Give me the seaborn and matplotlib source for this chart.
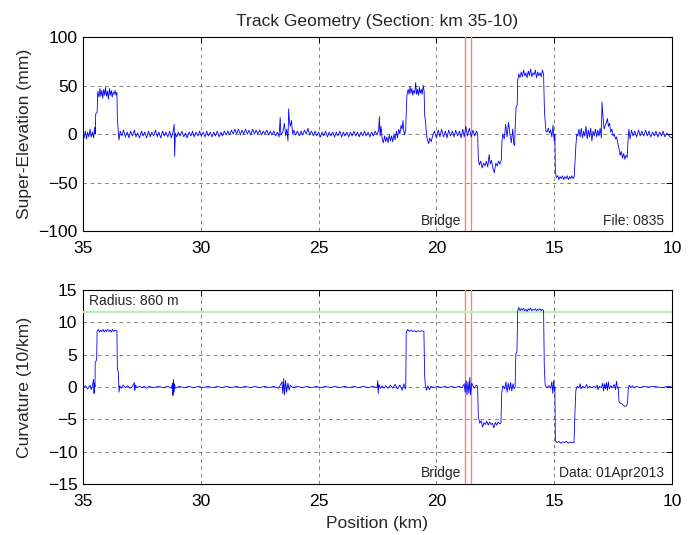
import matplotlib
matplotlib.use("Agg")
import matplotlib.pyplot as plt
import seaborn as sns
import pandas as pd

# ---------------- data ----------------
super_elev = [
    (35.00, 1), (34.95, -4), (34.90, 3), (34.85, -5), (34.80, 2), (34.75, -3), (34.70, 5), (34.65, -3),
    (34.60, 2), (34.55, -4), (34.50, 7), (34.48, 0),
    (34.46, 21), (34.40, 22), (34.37, 44), (34.32, 38), (34.28, 47), (34.24, 39), (34.20, 45), (34.16, 37),
    (34.12, 46), (34.08, 40), (34.04, 48), (34.00, 39), (33.96, 44), (33.92, 36), (33.88, 47), (33.84, 40),
    (33.80, 45), (33.76, 38), (33.72, 43), (33.68, 41), (33.64, 45), (33.60, 40), (33.56, 43),
    (33.54, 16), (33.50, 2), (33.47, -6), (33.42, 3), (33.35, -2), (33.28, 4), (33.20, -3), (33.12, 2),
    (33.05, -4), (32.98, 3), (32.90, -2), (32.82, 4), (32.75, -3), (32.68, 1), (32.60, -4), (32.52, 3),
    (32.45, -2), (32.38, 2), (32.30, -4), (32.22, 3), (32.15, -3), (32.08, 2), (32.00, -2), (31.92, 4),
    (31.85, -3), (31.78, 2), (31.70, -4), (31.62, 3), (31.55, -2), (31.48, 2), (31.40, -3), (31.32, 3),
    (31.25, -4), (31.18, 2), (31.13, 10), (31.11, -23), (31.08, 1), (31.02, -3), (30.95, 2), (30.88, -2),
    (30.80, 3), (30.72, -3), (30.65, 1), (30.58, -4), (30.50, 2), (30.42, -2), (30.35, 3), (30.28, -3),
    (30.20, 2), (30.12, -2), (30.05, 3), (29.98, -2), (29.90, 2), (29.82, -3), (29.75, 3), (29.68, -2),
    (29.60, 2), (29.52, -3), (29.45, 2), (29.38, -2), (29.30, 3), (29.22, -3), (29.15, 2), (29.08, -2),
    (29.00, 3), (28.92, -1), (28.85, 3), (28.78, -1), (28.70, 4), (28.62, 0), (28.55, 5), (28.48, 0),
    (28.40, 5), (28.32, -1), (28.25, 4), (28.18, 0), (28.10, 5), (28.02, 0), (27.95, 4), (27.88, -1),
    (27.80, 5), (27.72, 0), (27.65, 4), (27.58, 0), (27.50, 4), (27.42, -1), (27.35, 3), (27.28, 0),
    (27.20, 4), (27.12, -1), (27.05, 3), (26.98, -1), (26.90, 3), (26.82, -2), (26.75, 2), (26.68, -3),
    (26.63, 17), (26.60, -1), (26.52, 2), (26.45, 11), (26.40, -2), (26.35, 5), (26.30, -7), (26.27, 26),
    (26.24, 13), (26.20, 8), (26.15, 14), (26.10, 0), (26.05, 4), (25.98, -1), (25.90, 3), (25.82, -2),
    (25.75, 3), (25.68, -1), (25.60, 4), (25.52, 0), (25.45, 6), (25.38, -1), (25.30, 3), (25.22, -2),
    (25.15, 3), (25.08, -2), (25.00, 2), (24.92, -3), (24.85, 2), (24.78, -2), (24.70, 3), (24.62, -3),
    (24.55, 2), (24.48, -2), (24.40, 2), (24.32, -3), (24.25, 2), (24.18, -2), (24.10, 3), (24.02, -3),
    (23.95, 2), (23.88, -2), (23.80, 2), (23.72, -3), (23.65, 2), (23.58, -2), (23.50, 3), (23.42, -2),
    (23.35, 2), (23.28, -3), (23.20, 2), (23.12, -2), (23.05, 3), (22.98, -2), (22.90, 2), (22.82, -3),
    (22.75, 2), (22.68, -2), (22.60, 3), (22.52, -1), (22.45, 4), (22.42, 18), (22.39, -2), (22.35, 8),
    (22.30, -5), (22.25, -9), (22.20, -2), (22.15, -8), (22.10, -3), (22.05, -9), (22.00, -1), (21.95, -7),
    (21.90, -2), (21.85, -8), (21.80, 0), (21.75, -6), (21.70, 3), (21.65, -4), (21.60, 5), (21.55, 0),
    (21.50, 9), (21.45, 5), (21.42, 14), (21.38, 3), (21.35, -1), (21.30, 5),
    (21.28, 22), (21.25, 40), (21.20, 46), (21.16, 41), (21.12, 49), (21.08, 42), (21.04, 47), (21.00, 40),
    (20.96, 45), (20.92, 42), (20.88, 53), (20.84, 41), (20.80, 46), (20.76, 40), (20.72, 48), (20.68, 42),
    (20.64, 46), (20.60, 41), (20.56, 50), (20.52, 44),
    (20.50, 20), (20.46, 12), (20.42, 0), (20.38, -6), (20.33, -10), (20.28, -4), (20.22, -8), (20.15, -1),
    (20.08, 3), (20.00, -4), (19.92, 4), (19.85, -3), (19.78, 5), (19.70, -3), (19.62, 3), (19.55, -4),
    (19.48, 4), (19.40, -2), (19.32, 3), (19.25, -3), (19.18, 4), (19.10, -2), (19.02, 3), (18.95, -4),
    (18.88, 5), (18.82, -3), (18.75, 8), (18.68, -2), (18.60, 6), (18.52, -3), (18.45, 4), (18.38, -2),
    (18.30, 3), (18.25, 0),
    (18.22, -25), (18.18, -32), (18.12, -28), (18.06, -35), (18.00, -30), (17.94, -33), (17.88, -28),
    (17.82, -34), (17.76, -21), (17.72, -31), (17.66, -27), (17.60, -35), (17.54, -40), (17.48, -30),
    (17.42, -33), (17.36, -28), (17.30, -31), (17.24, -26),
    (17.22, -8), (17.18, 0), (17.12, -5), (17.06, 10), (17.00, -3), (16.94, 12), (16.88, 0), (16.82, -9),
    (16.76, 5), (16.72, -10), (16.68, -12), (16.66, 5), (16.62, 27), (16.57, 30),
    (16.55, 55), (16.50, 62), (16.45, 58), (16.40, 64), (16.35, 59), (16.30, 66), (16.25, 60), (16.20, 63),
    (16.15, 58), (16.10, 65), (16.05, 60), (16.00, 67), (15.95, 59), (15.90, 63), (15.85, 61), (15.80, 66),
    (15.75, 58), (15.70, 64), (15.65, 60), (15.60, 63), (15.55, 59), (15.50, 66), (15.45, 61),
    (15.42, 30), (15.40, 18), (15.35, 3), (15.30, 2), (15.25, 6), (15.20, 1), (15.15, 4), (15.10, -3),
    (15.05, 9), (15.00, -7), (14.97, 0),
    (14.95, -40), (14.90, -45), (14.85, -43), (14.80, -47), (14.75, -44), (14.70, -46), (14.65, -43),
    (14.60, -47), (14.55, -44), (14.50, -46), (14.45, -43), (14.40, -47), (14.35, -44), (14.30, -46),
    (14.25, -43), (14.20, -46), (14.15, -44),
    (14.12, -30), (14.08, -12), (14.04, 0), (14.00, -2), (13.95, 5), (13.90, -3), (13.85, 6), (13.80, -4),
    (13.75, 3), (13.70, -2), (13.65, 8), (13.60, -5), (13.55, 4), (13.50, -3), (13.45, 6), (13.40, -7),
    (13.35, 3), (13.30, -2), (13.25, 5), (13.20, -3), (13.15, 4), (13.10, -2), (13.05, 6), (13.00, -4),
    (12.97, 33), (12.93, 18), (12.88, 5), (12.82, 10), (12.78, 12), (12.74, 16), (12.70, 8), (12.65, 11),
    (12.60, 2), (12.55, 5), (12.50, -2), (12.45, 0), (12.40, -5), (12.35, -3), (12.30, -10), (12.25, -15),
    (12.20, -22), (12.15, -18), (12.10, -25), (12.05, -20), (12.00, -26), (11.95, -22), (11.90, -24),
    (11.87, -8), (11.83, 5), (11.78, -5), (11.72, 4), (11.65, -2), (11.58, 3), (11.50, -3), (11.42, 4),
    (11.35, -2), (11.28, 3), (11.20, -2), (11.12, 4), (11.05, -2), (10.98, 3), (10.90, -3), (10.82, 2),
    (10.75, -2), (10.68, 3), (10.60, -3), (10.52, 2), (10.45, -2), (10.38, 3), (10.30, -3), (10.22, 1),
    (10.15, -1), (10.08, -3), (10.00, -4),
]

curvature = [
    (35.00, 0.0), (34.90, 0.2), (34.80, -0.3), (34.70, 0.3), (34.65, -0.4), (34.60, 0.2), (34.55, 1.2),
    (34.53, -1.0), (34.51, 0.6), (34.49, 0.0),
    (34.48, 3.8), (34.42, 4.2), (34.40, 8.6), (34.35, 8.9), (34.30, 8.5), (34.25, 8.8), (34.20, 8.6),
    (34.15, 8.9), (34.10, 8.5), (34.05, 8.8), (34.00, 8.6), (33.95, 8.9), (33.90, 8.6), (33.85, 8.8),
    (33.80, 8.5), (33.75, 8.9), (33.70, 8.6), (33.65, 8.8), (33.60, 8.7), (33.56, 8.7),
    (33.54, 2.6), (33.50, 2.4), (33.47, -0.8), (33.44, 0.2), (33.38, -0.2), (33.30, 0.3), (33.20, -0.1),
    (33.10, 0.2), (33.00, -0.2), (32.90, 0.1), (32.82, 0.7), (32.80, -0.5), (32.78, 0.3), (32.70, -0.1),
    (32.60, 0.1), (32.50, -0.1), (32.40, 0.1), (32.30, -0.2), (32.20, 0.1), (32.00, -0.1), (31.80, 0.1),
    (31.60, -0.1), (31.40, 0.1), (31.25, -0.2), (31.20, 0.6), (31.18, -1.3), (31.16, 1.2), (31.14, -0.8),
    (31.12, 0.5), (31.08, -0.2), (30.90, 0.1), (30.70, -0.1), (30.50, 0.1), (30.30, -0.1), (30.10, 0.1),
    (29.90, -0.1), (29.70, 0.1), (29.50, -0.1), (29.30, 0.1), (29.10, -0.1), (28.90, 0.1), (28.70, -0.1),
    (28.50, 0.1), (28.30, -0.1), (28.10, 0.1), (27.90, -0.1), (27.70, 0.1), (27.50, -0.1), (27.30, 0.1),
    (27.10, -0.1), (26.90, 0.1), (26.70, -0.2), (26.55, 0.8), (26.52, -1.0), (26.48, 1.3), (26.45, -1.2),
    (26.40, 1.0), (26.36, -0.8), (26.30, 0.6), (26.25, -0.5), (26.20, 0.3), (26.10, -0.1), (25.90, 0.1),
    (25.70, -0.1), (25.50, 0.1), (25.30, -0.1), (25.10, 0.1), (24.90, -0.1), (24.70, 0.1), (24.50, -0.1),
    (24.30, 0.1), (24.10, -0.1), (23.90, 0.1), (23.70, -0.1), (23.50, 0.1), (23.30, -0.1), (23.10, 0.1),
    (22.90, -0.1), (22.70, 0.1), (22.52, -0.1), (22.49, 1.0), (22.47, -1.0), (22.44, 0.4), (22.38, -0.2),
    (22.30, 0.2), (22.22, -0.2), (22.15, 0.2), (22.05, -0.2), (21.95, 0.3), (21.85, -0.2), (21.75, 0.4),
    (21.65, -0.3), (21.55, 0.3), (21.45, -0.5), (21.38, 0.5), (21.32, -0.3), (21.30, 0.0),
    (21.28, 8.4), (21.22, 8.9), (21.15, 8.6), (21.08, 8.8), (21.00, 8.6), (20.92, 8.7), (20.85, 8.5),
    (20.78, 8.7), (20.70, 8.6), (20.62, 8.7), (20.53, 8.6),
    (20.50, 2.0), (20.47, 0.2), (20.42, -0.5), (20.36, 0.2), (20.30, -0.4), (20.22, 0.1), (20.10, -0.1),
    (19.95, 0.1), (19.80, -0.1), (19.65, 0.1), (19.50, -0.1), (19.35, 0.1), (19.20, -0.1), (19.05, 0.1),
    (18.90, -0.1), (18.82, 0.5), (18.78, -0.8), (18.74, 1.0), (18.70, -1.2), (18.66, 0.8), (18.62, -1.0),
    (18.58, 1.5), (18.55, -1.2), (18.50, 0.6), (18.40, -0.2), (18.30, 0.3), (18.25, 0.0),
    (18.22, -4.6), (18.16, -5.6), (18.10, -5.2), (18.04, -6.2), (17.98, -5.5), (17.92, -5.8), (17.86, -5.3),
    (17.80, -5.9), (17.74, -5.4), (17.68, -5.8), (17.62, -5.6), (17.56, -6.3), (17.50, -5.5), (17.44, -5.9),
    (17.38, -5.4), (17.32, -5.7), (17.26, -5.6),
    (17.23, -1.0), (17.18, 0.2), (17.10, -0.3), (17.05, 0.8), (17.00, -0.8), (16.95, 0.6), (16.90, -0.5),
    (16.85, 0.7), (16.80, -0.6), (16.75, 0.5), (16.70, -0.3), (16.66, 0.0),
    (16.63, 5.0), (16.58, 5.5), (16.55, 11.8), (16.50, 12.3), (16.45, 11.8), (16.40, 12.1), (16.35, 11.9),
    (16.30, 12.2), (16.25, 11.8), (16.20, 12.0), (16.15, 11.7), (16.10, 12.1), (16.05, 11.9), (16.00, 12.2),
    (15.95, 11.8), (15.90, 12.0), (15.85, 11.9), (15.80, 12.1), (15.75, 11.8), (15.70, 12.0), (15.65, 11.9),
    (15.60, 12.1), (15.55, 11.8), (15.50, 12.0), (15.45, 11.8),
    (15.42, 3.0), (15.38, 0.2), (15.30, -0.1), (15.22, 0.2), (15.15, -0.2), (15.10, 0.8), (15.06, -1.0),
    (15.02, 1.0), (14.99, -0.6), (14.97, 0.0),
    (14.95, -8.3), (14.88, -8.6), (14.80, -8.4), (14.72, -8.7), (14.64, -8.5), (14.56, -8.6), (14.48, -8.4),
    (14.40, -8.7), (14.32, -8.5), (14.24, -8.6), (14.16, -8.6),
    (14.12, -4.0), (14.08, -0.5), (14.02, 0.1), (13.95, -0.1), (13.90, 0.5), (13.86, -0.3), (13.80, 0.1),
    (13.70, -0.1), (13.62, 0.4), (13.58, -0.2), (13.50, 0.1), (13.40, -0.1), (13.32, 0.1), (13.25, -0.1),
    (13.18, 0.3), (13.14, -0.4), (13.08, 0.1), (13.00, -0.1), (12.94, 0.6), (12.91, -0.6), (12.86, 0.5),
    (12.82, -0.3), (12.78, 0.7), (12.74, -0.5), (12.70, 0.8), (12.66, -0.3), (12.60, 0.2), (12.52, -0.1),
    (12.45, 0.4), (12.40, -0.4), (12.35, 0.9), (12.32, -0.2), (12.28, 0.0),
    (12.25, -2.2), (12.20, -2.5), (12.12, -2.6), (12.05, -2.9), (11.98, -3.0), (11.92, -2.8), (11.89, -2.5),
    (11.86, -0.5), (11.82, 0.3), (11.75, -0.1), (11.68, 0.2), (11.60, -0.1), (11.50, 0.1), (11.35, -0.1),
    (11.20, 0.1), (11.00, 0.0), (10.80, 0.1), (10.60, 0.0), (10.40, -0.1), (10.20, 0.1), (10.00, 0.0),
]

bridge_km = [18.80, 18.55]
radius_curv = 11.63          # 1/860 m expressed in 10/km
x_ticks = [35, 30, 25, 20, 15, 10]
se_ticks = [-100, -50, 0, 50, 100]
cv_ticks = [-15, -10, -5, 0, 5, 10, 15]

se_df = pd.DataFrame(super_elev, columns=["km", "mm"])
cv_df = pd.DataFrame(curvature, columns=["km", "curv"])

# ---------------- style ----------------
sns.set_theme(style="white")
plt.rcParams["font.family"] = ["Liberation Sans", "DejaVu Sans"]
plt.rcParams["lines.scale_dashes"] = False

fig = plt.figure(figsize=(6.95, 5.35), dpi=100)
ax1 = fig.add_axes([0.1194, 0.5682, 0.8475, 0.3626])
ax2 = fig.add_axes([0.1194, 0.0953, 0.8475, 0.3626])

blue = "#0000ff"
big = 12.6
small = 10
grid_kw = dict(color="#707070", linestyle=(0, (2.6, 2.6)), linewidth=0.6)

for ax in (ax1, ax2):
    ax.set_xlim(35, 10)
    ax.set_xticks(x_ticks)
    ax.set_facecolor("white")
    for s in ax.spines.values():
        s.set_color("black")
        s.set_linewidth(0.8)
    ax.tick_params(direction="in", length=4, width=0.7, top=True, right=True,
                   labelsize=big, colors="black", pad=4)
    ax.tick_params(axis="x", pad=7)
    ax.grid(True, **grid_kw)
    ax.set_axisbelow(True)
    for b in bridge_km:
        ax.axvline(b, color="#ff8080", linewidth=1.0, zorder=3)

sns.lineplot(data=se_df, x="km", y="mm", ax=ax1, sort=False, estimator=None,
             color=blue, linewidth=0.6, zorder=4)
ax1.set_ylim(-100, 100)
ax1.set_yticks(se_ticks)
ax1.set_xlabel("")
ax1.set_ylabel("Super-Elevation (mm)", fontsize=big)
ax1.yaxis.set_label_coords(-0.087, 0.5)
ax1.set_title("Track Geometry (Section: km 35-10)", fontsize=big, pad=8)
ax1.text(18.95, -90, "Bridge", ha="right", va="center", fontsize=small, zorder=5)
ax1.text(10.34, -90, "File: 0835", ha="right", va="center", fontsize=small, zorder=5)

ax2.axhline(radius_curv, color="#b8f0b8", linewidth=1.6, zorder=3)
sns.lineplot(data=cv_df, x="km", y="curv", ax=ax2, sort=False, estimator=None,
             color=blue, linewidth=0.6, zorder=4)
ax2.set_ylim(-15, 15)
ax2.set_yticks(cv_ticks)
ax2.set_xlabel("Position (km)", fontsize=big, labelpad=5)
ax2.set_ylabel("Curvature (10/km)", fontsize=big)
ax2.yaxis.set_label_coords(-0.087, 0.5)
ax2.text(34.75, 13.3, "Radius: 860 m", ha="left", va="center", fontsize=small, zorder=5)
ax2.text(18.95, -13.35, "Bridge", ha="right", va="center", fontsize=small, zorder=5)
ax2.text(10.34, -13.35, "Data: 01Apr2013", ha="right", va="center", fontsize=small, zorder=5,
         bbox=dict(facecolor="white", edgecolor="none", pad=0.5))

fig.savefig("out.png", dpi=100, facecolor="white")
